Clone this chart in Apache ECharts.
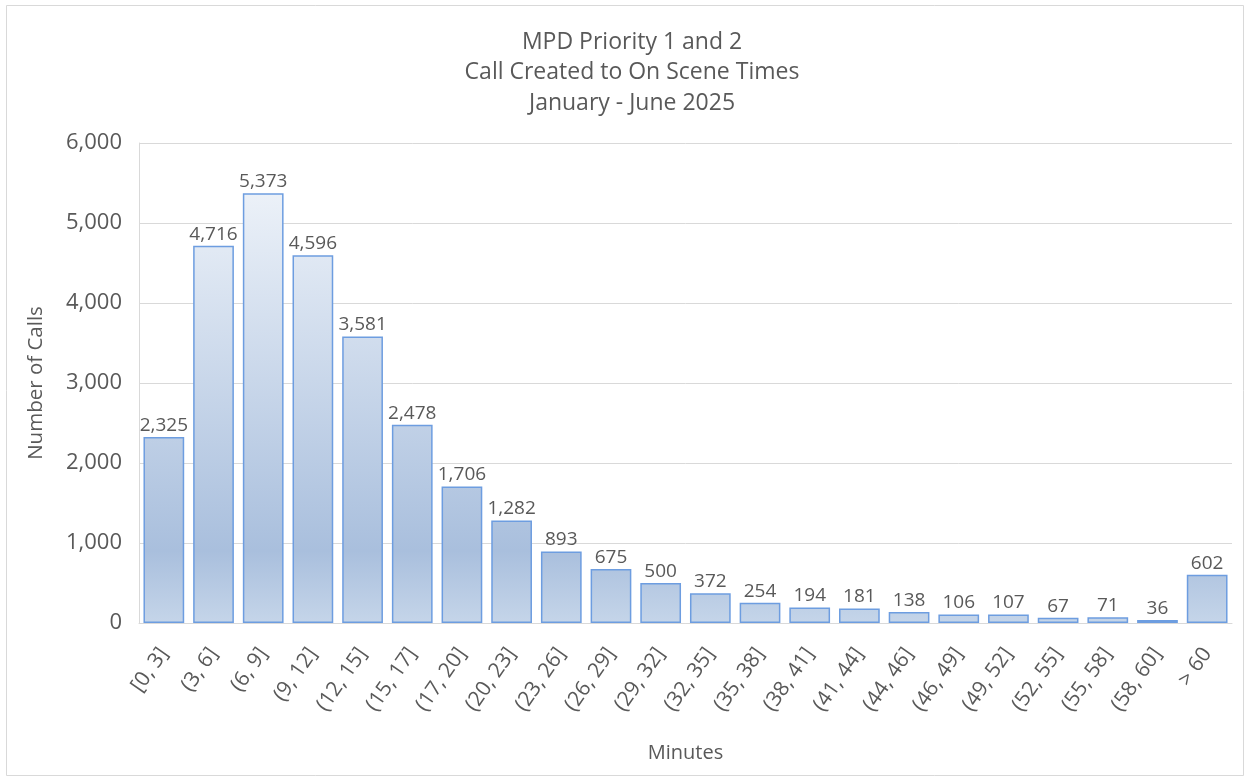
<!DOCTYPE html>
<html>
<head>
<meta charset="utf-8">
<script src="https://cdn.jsdelivr.net/npm/echarts@6/dist/echarts.min.js"></script>
<style>
html,body{margin:0;padding:0;background:#fff;}
#chart{width:1249px;height:780px;}
</style>
</head>
<body>
<div id="chart"></div>
<script>
const titleLines = ['MPD Priority 1 and 2', 'Call Created to On Scene Times', 'January - June 2025'];
const categories = ['[0, 3]', '(3, 6]', '(6, 9]', '(9, 12]', '(12, 15]', '(15, 17]', '(17, 20]', '(20, 23]', '(23, 26]', '(26, 29]', '(29, 32]', '(32, 35]', '(35, 38]', '(38, 41]', '(41, 44]', '(44, 46]', '(46, 49]', '(49, 52]', '(52, 55]', '(55, 58]', '(58, 60]', '> 60'];
const calls = [2325, 4716, 5373, 4596, 3581, 2478, 1706, 1282, 893, 675, 500, 372, 254, 194, 181, 138, 106, 107, 67, 71, 36, 602];
const yAxisName = 'Number of Calls';
const xAxisName = 'Minutes';

const FONT = '"Open Sans", "Noto Sans", sans-serif';
const TXT = '#595959';
const chart = echarts.init(document.getElementById('chart'), null, {renderer: 'canvas'});

const gridTop = 143, gridBottomY = 623;
const fill = new echarts.graphic.LinearGradient(0, gridTop, 0, gridBottomY, [
  {offset: 0, color: '#f5f8fc'},
  {offset: 0.85, color: '#a9bfdd'},
  {offset: 1, color: '#c5d5e9'}
], true);

chart.setOption({
  animation: false,
  backgroundColor: '#fff',
  title: {
    text: titleLines.join('\n'),
    left: 627,
    textAlign: 'center',
    top: 22,
    textStyle: {fontFamily: FONT, fontSize: 23, fontWeight: 'normal', color: TXT, lineHeight: 30.5}
  },
  graphic: [{
    type: 'rect',
    shape: {x: 6.5, y: 5.5, width: 1237, height: 770},
    style: {fill: 'none', stroke: '#d9d9d9', lineWidth: 1},
    silent: true
  }],
  grid: {left: 139, right: 1249 - 1232, top: gridTop, bottom: 780 - gridBottomY, containLabel: false},
  xAxis: {
    type: 'category',
    data: categories,
    name: xAxisName,
    nameLocation: 'middle',
    nameGap: 120,
    nameTextStyle: {fontFamily: FONT, fontSize: 20, color: TXT},
    axisLine: {show: true, lineStyle: {color: '#d9d9d9', width: 1}},
    axisTick: {show: false},
    axisLabel: {rotate: 55, fontFamily: FONT, fontSize: 21, color: TXT, margin: 27, interval: 0}
  },
  yAxis: {
    type: 'value',
    min: 0, max: 6000, interval: 1000,
    name: yAxisName,
    nameLocation: 'middle',
    nameGap: 92,
    nameTextStyle: {fontFamily: FONT, fontSize: 20.5, color: TXT},
    axisLine: {show: true, lineStyle: {color: '#d9d9d9'}},
    axisTick: {show: false},
    splitLine: {lineStyle: {color: '#d9d9d9', width: 1}},
    axisLabel: {fontFamily: FONT, fontSize: 22, color: TXT, margin: 17,
      formatter: v => v.toLocaleString('en-US')}
  },
  series: [{
    type: 'bar',
    data: calls,
    barCategoryGap: '18%',
    itemStyle: {color: fill, borderColor: '#6d9de0', borderWidth: 1.5},
    label: {
      show: true, position: 'top', distance: 2,
      fontFamily: FONT, fontSize: 19, color: TXT,
      formatter: p => p.value.toLocaleString('en-US')
    }
  }]
});
</script>
</body>
</html>
